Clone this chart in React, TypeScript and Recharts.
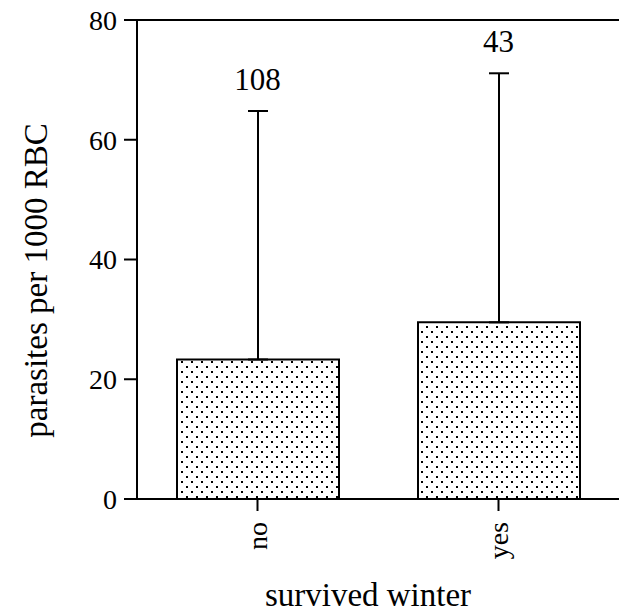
import { ComposedChart, Bar, Line, XAxis, YAxis, ErrorBar, LabelList, ReferenceLine, Label } from 'recharts';

const categories = ['no', 'yes'];
const meanValues = [23.3, 29.5];
const upperError = [41.5, 41.6];
const sampleSizes = [108, 43];
const yTicks = [0, 20, 40, 60, 80];

const FONT = '"Liberation Serif", "DejaVu Serif", serif';

const data = categories.map((cat, i) => ({
  cat,
  mean: meanValues[i],
  err: [0, upperError[i]],
  top: meanValues[i] + upperError[i],
  n: sampleSizes[i],
}));

const XTick = ({ x, y, payload }: any) => (
  <text
    x={x + 9}
    y={y}
    transform={`rotate(-90 ${x + 9} ${y})`}
    textAnchor="end"
    fontSize={28}
    fontFamily={FONT}
    fill="#000"
  >
    {payload.value}
  </text>
);

export default function App() {
  return (
    <div style={{ position: 'absolute', left: 0, top: 0 }}>
      <ComposedChart
        width={624}
        height={615}
        data={data}
        margin={{ top: 20, right: 5, bottom: 0, left: 0 }}
      >
        <defs>
          <pattern id="dots" width="10" height="10" patternUnits="userSpaceOnUse">
            <rect width="10" height="10" fill="#fff" />
            <rect x="1" y="1" width="2" height="2" fill="#000" />
            <rect x="6" y="6" width="2" height="2" fill="#000" />
          </pattern>
        </defs>
        <XAxis
          dataKey="cat"
          height={116}
          tickSize={12}
          tickMargin={11}
          tick={<XTick />}
          axisLine={{ stroke: '#000', strokeWidth: 2 }}
          tickLine={{ stroke: '#000', strokeWidth: 2 }}
        >
          <Label
            content={({ viewBox }: any) => (
              <text
                x={viewBox.x + viewBox.width / 2 - 10}
                y={viewBox.y + 107}
                textAnchor="middle"
                fontSize={33}
                fontFamily={FONT}
                fill="#000"
              >
                survived winter
              </text>
            )}
          />
        </XAxis>
        <YAxis
          width={137}
          domain={[0, 80]}
          ticks={yTicks}
          tickSize={13}
          tickMargin={7}
          tick={{ fontSize: 28, fontFamily: FONT, fill: '#000' }}
          axisLine={{ stroke: '#000', strokeWidth: 2 }}
          tickLine={{ stroke: '#000', strokeWidth: 2 }}
        >
          <Label
            content={({ viewBox }: any) => {
              const lx = viewBox.x + 47;
              const ly = viewBox.y + viewBox.height / 2 + 21;
              return (
                <text
                  x={lx}
                  y={ly}
                  transform={`rotate(-90 ${lx} ${ly})`}
                  textAnchor="middle"
                  fontSize={33}
                  fontFamily={FONT}
                  fill="#000"
                >
                  parasites per 1000 RBC
                </text>
              );
            }}
          />
        </YAxis>
        <YAxis
          yAxisId="right"
          orientation="right"
          width={0}
          domain={[0, 80]}
          tick={false}
          tickLine={false}
          axisLine={{ stroke: '#000', strokeWidth: 2 }}
        />
        <ReferenceLine y={80} stroke="#000" strokeWidth={2} />
        <Bar
          dataKey="mean"
          barSize={162}
          fill="url(#dots)"
          stroke="#000"
          strokeWidth={2}
          isAnimationActive={false}
        >
          <ErrorBar dataKey="err" direction="y" width={10} stroke="#000" strokeWidth={2} />
        </Bar>
        <Line
          dataKey="top"
          stroke="none"
          dot={false}
          activeDot={false}
          legendType="none"
          isAnimationActive={false}
        >
          <LabelList
            dataKey="n"
            position="top"
            offset={21}
            fill="#000"
            fontSize={31}
            fontFamily={FONT}
          />
        </Line>
      </ComposedChart>
    </div>
  );
}
